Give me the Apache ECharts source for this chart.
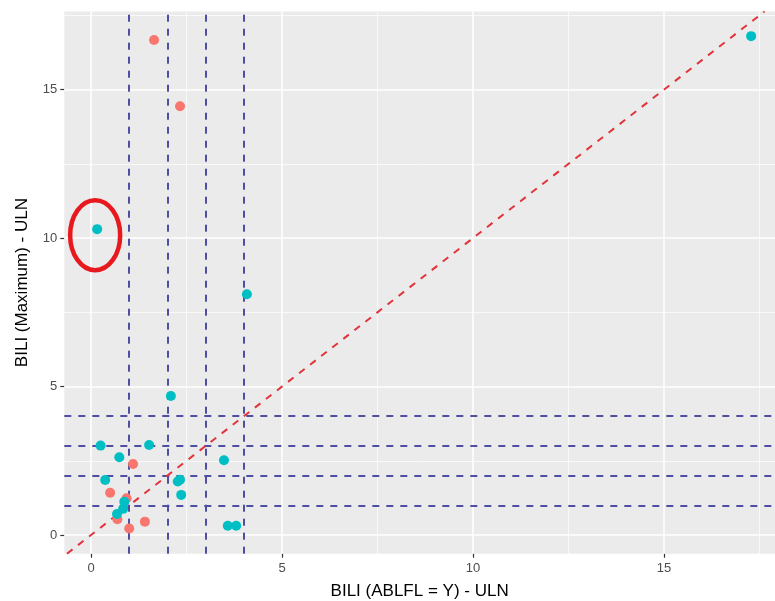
<!DOCTYPE html>
<html>
<head>
<meta charset="utf-8">
<script src="https://cdn.jsdelivr.net/npm/echarts@6/dist/echarts.min.js"></script>
<style>
  html, body { margin: 0; padding: 0; background: #ffffff; }
  #chart { width: 775px; height: 601px; }
</style>
</head>
<body>
<div id="chart"></div>
<script>
// Axis ticks and grid positions
const majorTicks = [0, 5, 10, 15];
const minorTicks = [2.5, 7.5, 12.5, 17.5];
const thresholdLevels = [1, 2, 3, 4];

// Group 1 (salmon)
const salmonX = [1.65, 2.33, 1.10, 0.50, 0.93, 0.69, 1.41, 1.00];
const salmonY = [16.67, 14.44, 2.39, 1.42, 1.24, 0.53, 0.45, 0.22];

// Group 2 (teal)
const tealX = [17.28, 0.16, 4.08, 2.09, 0.25, 1.52, 0.74, 0.37, 2.27, 2.33, 2.36, 3.48, 3.58, 3.80, 0.87, 0.84, 0.68];
const tealY = [16.80, 10.30, 8.11, 4.68, 3.01, 3.03, 2.62, 1.85, 1.80, 1.86, 1.35, 2.52, 0.31, 0.31, 1.12, 0.88, 0.71];

// Point singled out with a ring
const highlighted = [0.16, 10.30];

const X_MIN = -0.70, X_MAX = 17.905;
const Y_MIN = -0.63, Y_MAX = 17.63;

const zip = (xs, ys) => xs.map((x, i) => [x, ys[i]]);

const chart = echarts.init(document.getElementById('chart'), null, { renderer: 'canvas' });

const font = '"Liberation Sans", Arial, Helvetica, sans-serif';
const noEmph = { disabled: true };

const axisCommon = {
  axisLine: { show: false, onZero: false },
  axisTick: { show: true, customValues: majorTicks, length: 4, lineStyle: { color: '#333333', width: 1.2 } },
  splitLine: { show: false }
};

const option = {
  animation: false,
  backgroundColor: '#ffffff',
  grid: {
    left: 64.3, right: 0, top: 11.5, bottom: 47.3,
    outerBoundsMode: 'none', containLabel: false,
    show: true, backgroundColor: '#EBEBEB', borderWidth: 0
  },
  xAxis: Object.assign({
    type: 'value', min: X_MIN, max: X_MAX,
    name: 'BILI (ABLFL = Y) - ULN',
    nameLocation: 'middle', nameGap: 29,
    nameTextStyle: { fontFamily: font, fontSize: 17, color: '#000000' },
    axisLabel: { customValues: majorTicks, margin: 8, fontFamily: font, fontSize: 13, color: '#4D4D4D' }
  }, axisCommon),
  yAxis: Object.assign({
    type: 'value', min: Y_MIN, max: Y_MAX,
    name: 'BILI (Maximum) - ULN',
    nameLocation: 'middle', nameGap: 33,
    nameTextStyle: { fontFamily: font, fontSize: 17, color: '#000000' },
    axisLabel: { customValues: majorTicks, margin: 7, fontFamily: font, fontSize: 13, color: '#4D4D4D' }
  }, axisCommon),
  series: [
    {
      // background grid
      type: 'scatter', data: [], silent: true, z: 1,
      markLine: {
        silent: true, z: 1, symbol: ['none', 'none'], label: { show: false }, emphasis: noEmph,
        data: [
          ...majorTicks.map(v => ({ xAxis: v, lineStyle: { color: '#ffffff', width: 1.5, type: 'solid' } })),
          ...majorTicks.map(v => ({ yAxis: v, lineStyle: { color: '#ffffff', width: 1.5, type: 'solid' } })),
          ...minorTicks.map(v => ({ xAxis: v, lineStyle: { color: '#ffffff', width: 0.7, type: 'solid' } })),
          ...minorTicks.map(v => ({ yAxis: v, lineStyle: { color: '#ffffff', width: 0.7, type: 'solid' } }))
        ]
      }
    },
    {
      // threshold guides and identity line
      type: 'scatter', data: [], silent: true, z: 2,
      markLine: {
        silent: true, z: 2, symbol: ['none', 'none'], label: { show: false }, emphasis: noEmph,
        lineStyle: { color: '#4E4EA2', width: 2, type: [7, 7] },
        data: [
          ...thresholdLevels.map(v => ({ xAxis: v })),
          ...thresholdLevels.map(v => ({ yAxis: v })),
          [
            { coord: [Y_MIN, Y_MIN], lineStyle: { color: '#E2333A', width: 2, type: [7, 7] } },
            { coord: [Y_MAX, Y_MAX] }
          ]
        ]
      }
    },
    {
      name: 'salmon', type: 'scatter', z: 3, symbolSize: 10,
      itemStyle: { color: '#F8766D', opacity: 1 },
      emphasis: noEmph,
      data: zip(salmonX, salmonY)
    },
    {
      name: 'teal', type: 'scatter', z: 4, symbolSize: 10,
      itemStyle: { color: '#00BFC4', opacity: 1 },
      emphasis: noEmph,
      data: zip(tealX, tealY)
    }
  ]
};

chart.setOption(option);

// Red ring drawn around the highlighted point
const p = chart.convertToPixel({ gridIndex: 0 }, highlighted);
chart.setOption({
  graphic: [{
    type: 'ellipse', silent: true, z: 10,
    shape: { cx: p[0] - 2, cy: p[1] + 6, rx: 25, ry: 35 },
    style: { fill: 'none', stroke: '#E8191E', lineWidth: 4.5 }
  }]
});
</script>
</body>
</html>
